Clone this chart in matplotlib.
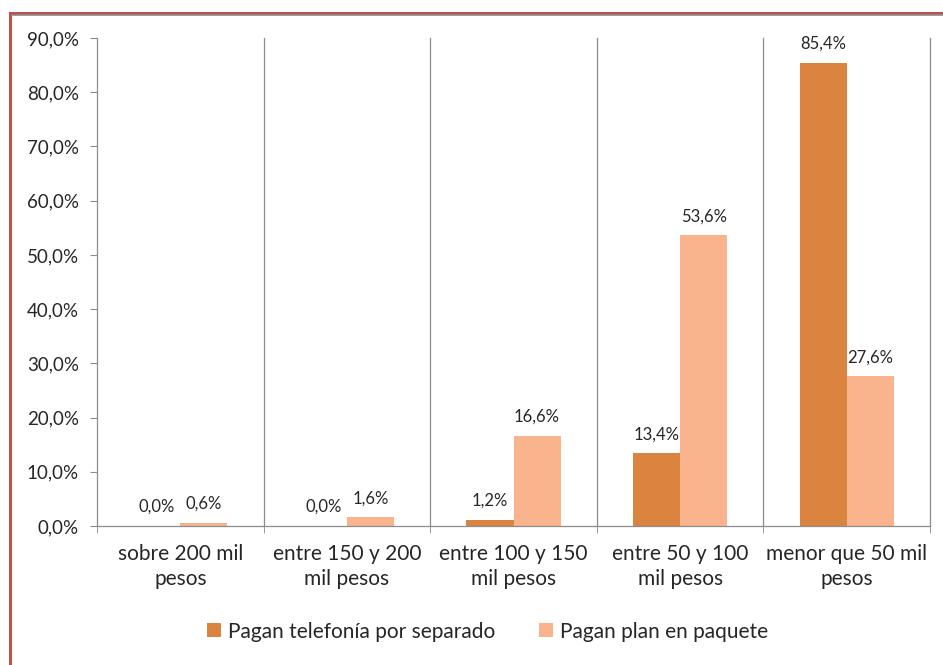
import matplotlib.pyplot as plt
from matplotlib.lines import Line2D
import numpy as np

plt.rcParams['font.family'] = ['Lato', 'DejaVu Sans']

# --- DATA ---
categories = ['sobre 200 mil\npesos', 'entre 150 y 200\nmil pesos', 'entre 100 y 150\nmil pesos',
              'entre 50 y 100\nmil pesos', 'menor que 50 mil\npesos']
separado = [0.0, 0.0, 1.2, 13.4, 85.4]
paquete = [0.6, 1.6, 16.6, 53.6, 27.6]
series_names = ['Pagan telefonía por separado', 'Pagan plan en paquete']
y_ticks = [0, 10, 20, 30, 40, 50, 60, 70, 80, 90]

c_sep = '#DA843F'
c_paq = '#F9B48E'
c_axis = '#8C8C8C'
c_text = '#262626'

fig = plt.figure(figsize=(9.43, 6.65), dpi=100)
ax = fig.add_axes([0.1029, 0.2090, 0.8833, 0.7339])

x = np.arange(len(categories))
w = 0.283
b1 = ax.bar(x - w / 2, separado, w, color=c_sep, label=series_names[0])
b2 = ax.bar(x + w / 2, paquete, w, color=c_paq, label=series_names[1])

for bars, vals in ((b1, separado), (b2, paquete)):
    for rect, v in zip(bars, vals):
        ax.annotate(f'{v:.1f}%'.replace('.', ','),
                    (rect.get_x() + rect.get_width() / 2, v),
                    xytext=(0, 8), textcoords='offset points',
                    ha='center', va='bottom', fontsize=12, color=c_text)

ax.set_xlim(-0.5, len(categories) - 0.5)
ax.set_ylim(0, 90)
ax.set_yticks(y_ticks)
ax.set_yticklabels([f'{t:.1f}%'.replace('.', ',') for t in y_ticks], fontsize=13.5, color=c_text)

ax.set_xticks(x)
ax.set_xticklabels(categories, fontsize=15, color=c_text, linespacing=1.3)
ax.set_xticks(np.arange(len(categories) + 1) - 0.5, minor=True)
ax.tick_params(axis='x', which='major', length=0, pad=13)
ax.tick_params(axis='x', which='minor', length=5, color=c_axis, direction='out')
ax.tick_params(axis='y', length=5, color=c_axis, direction='out', pad=8)

# vertical separators between categories
for b in np.arange(1, len(categories) + 1) - 0.5:
    ax.axvline(b, color=c_axis, linewidth=0.9, clip_on=False)

for s in ('top', 'right'):
    ax.spines[s].set_visible(False)
for s in ('left', 'bottom'):
    ax.spines[s].set_color(c_axis)
    ax.spines[s].set_linewidth(0.9)

fig.legend(handles=[b1, b2], loc='center', bbox_to_anchor=(0.517, 0.05), ncol=2,
           frameon=False, fontsize=15, handlelength=0.65, handleheight=0.65,
           handletextpad=0.35, columnspacing=2.1, labelcolor=c_text)

# outer chart border (only top and left visible in the crop)
fig.add_artist(Line2D([10 / 943, 1], [1 - 13 / 665, 1 - 13 / 665], color='#C0504D', linewidth=2.2))
fig.add_artist(Line2D([10 / 943, 10 / 943], [0, 1 - 13 / 665], color='#C0504D', linewidth=2.2))
fig.add_artist(Line2D([12 / 943, 1], [1 - 15 / 665, 1 - 15 / 665], color='#8C8C8C', linewidth=1.2))

fig.savefig('out.png', dpi=100)
